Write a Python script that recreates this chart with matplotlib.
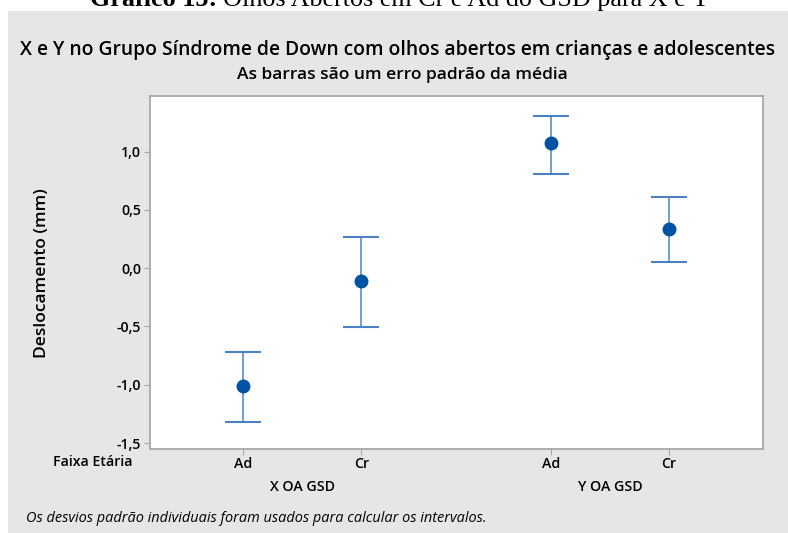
import matplotlib
matplotlib.use("Agg")
import matplotlib.pyplot as plt
from matplotlib.patches import Rectangle
from matplotlib.transforms import blended_transform_factory

# ---- data ----
groups = ["X OA GSD", "Y OA GSD"]
ages = ["Ad", "Cr", "Ad", "Cr"]
means = [-1.009, -0.111, 1.072, 0.340]
upper = [-0.715, 0.268, 1.308, 0.609]
lower = [-1.318, -0.503, 0.811, 0.054]
yticks = [-1.5, -1.0, -0.5, 0.0, 0.5, 1.0]
ytick_labels = ["-1,5", "-1,0", "-0,5", "0,0", "0,5", "1,0"]

W, H = 788, 533
fig = plt.figure(figsize=(W / 100, H / 100), dpi=100)
fig.patch.set_facecolor("white")

def fx(x):
    return x / W

def fy(y):
    return 1 - y / H

SANS = ["Open Sans", "DejaVu Sans"]
SERIF = ["Liberation Serif", "DejaVu Serif"]
LBL = 10.2

# gray panel
fig.patches.append(Rectangle((fx(8), 0), 1 - fx(8), fy(11), transform=fig.transFigure,
                             facecolor="#E6E6E6", edgecolor="none", zorder=-10))

ax = fig.add_axes([fx(150), fy(449), fx(763) - fx(150), fy(96) - fy(449)])
ax.set_zorder(1)
ax.set_facecolor("white")

gap = 1.605
pos = [0, 1, 1 + gap, 2 + gap]
err_lo = [m - l for m, l in zip(means, lower)]
err_hi = [u - m for m, u in zip(means, upper)]
ax.errorbar(pos, means, yerr=[err_lo, err_hi], fmt="none", ecolor="#4A82C4",
            elinewidth=1.1, capsize=13, capthick=1.5, zorder=2)
ax.plot(pos, means, "o", color="#0052A3", markersize=9, zorder=3)

ax.set_xlim(-0.792, 4.403)
ax.set_ylim(-1.551, 1.477)
ax.set_yticks(yticks)
ax.set_yticklabels(ytick_labels)
ax.set_xticks(pos)
ax.set_xticklabels(ages)
for s in ax.spines.values():
    s.set_color("#A8A8A8")
    s.set_linewidth(1.3)
ax.tick_params(axis="both", colors="#A8A8A8", length=4, width=0.8, labelcolor="black",
               labelsize=LBL)
ax.tick_params(axis="x", pad=2)
ax.tick_params(axis="y", pad=2.5)
for lab in ax.get_xticklabels() + ax.get_yticklabels():
    lab.set_family(SANS)
    lab.set_fontweight("semibold")

# group labels
trans = blended_transform_factory(ax.transData, fig.transFigure)
for g, (a, b) in zip(groups, [(pos[0], pos[1]), (pos[2], pos[3])]):
    fig.text((a + b) / 2, fy(487), g, transform=trans, ha="center", va="center",
             fontsize=LBL, fontweight="semibold", family=SANS)

fig.text(fx(93), fy(462), "Faixa Etária", ha="center", va="center", fontsize=LBL,
         fontweight="semibold", family=SANS)

fig.canvas.draw()
r = fig.canvas.get_renderer()

def fit(t, target, use_height=False):
    bb = t.get_window_extent(r)
    cur = bb.height if use_height else bb.width
    t.set_fontsize(t.get_fontsize() * target / cur)

title = fig.text(fx(398), fy(55), "X e Y no Grupo Síndrome de Down com olhos abertos em crianças e adolescentes",
                 ha="center", va="baseline", fontsize=13, fontweight="semibold", family=SANS)
fit(title, 751)
sub = fig.text(fx(402), fy(79), "As barras são um erro padrão da média", ha="center", va="baseline",
               fontsize=10, fontweight="semibold", family=SANS)
fit(sub, 332)
foot = fig.text(fx(26), fy(518), "Os desvios padrão individuais foram usados para calcular os intervalos.",
                ha="left", va="center", fontsize=9, style="italic", family=SANS)
fit(foot, 461)
ylab = fig.text(fx(42), fy(273), "Deslocamento (mm)", rotation=90, ha="center", va="center",
                fontsize=12, fontweight="semibold", family=SANS)
fit(ylab, 170, use_height=True)

# top (cut) serif caption
t1 = fig.text(0, fy(6), "Gráfico 15:", ha="left", va="baseline", fontsize=18,
              fontweight="bold", family=SERIF)
t2 = fig.text(0, fy(6), "Olhos Abertos em Cr e Ad do GSD para X e Y", ha="left", va="baseline",
              fontsize=18, family=SERIF)
fig.canvas.draw()
w1 = t1.get_window_extent(r).width
w2 = t2.get_window_extent(r).width
sp = 18 * 100 / 72 * 0.25
scale = 622 / (w1 + w2 + sp)
for t in (t1, t2):
    t.set_fontsize(18 * scale)
w1 *= scale
w2 *= scale
sp *= scale
x0 = 401 - (w1 + w2 + sp) / 2
t1.set_x(fx(x0))
t2.set_x(fx(x0 + w1 + sp))

fig.savefig("out.png", dpi=100)
